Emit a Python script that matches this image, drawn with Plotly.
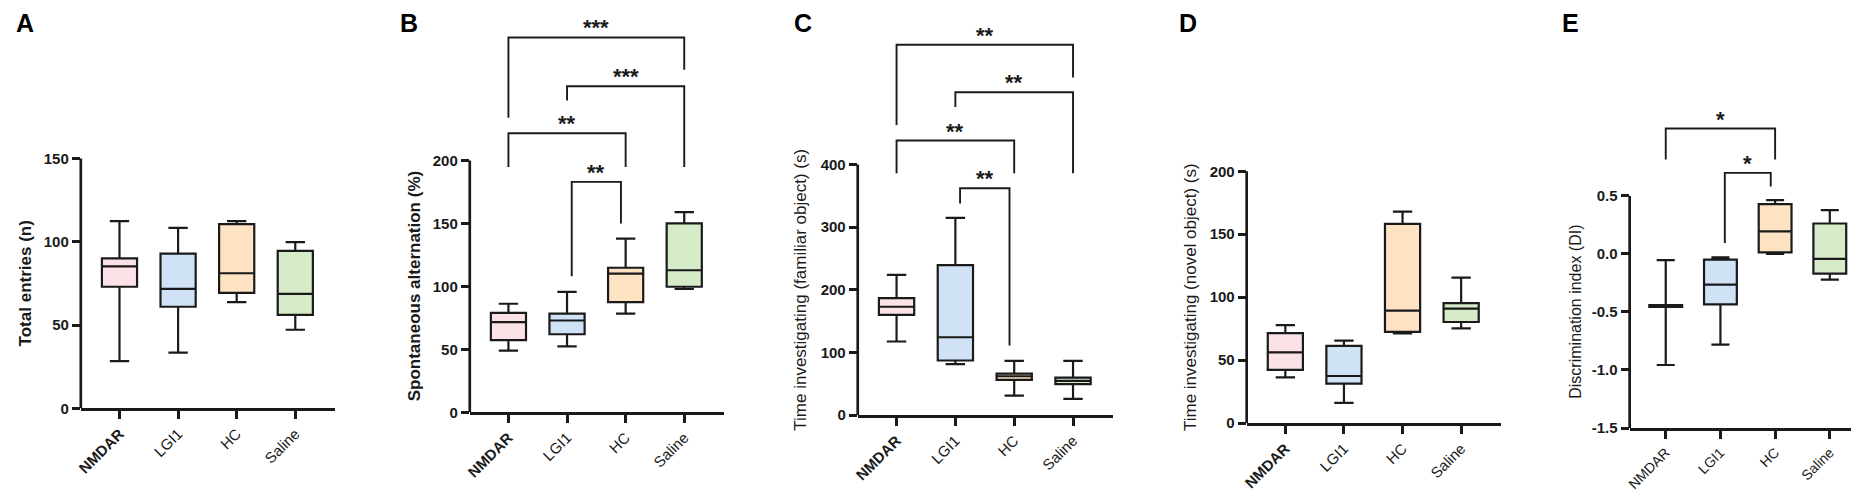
import plotly.graph_objects as go

W, H = 1859, 490

groups = ["NMDAR", "LGI1", "HC", "Saline"]
fills = ["#FBE2E6", "#CFE2F6", "#FEE3C3", "#D6EBC8"]

# ---- Panel A: Total entries (n)
A_min = [28.3, 33.5, 63.8, 47.2]
A_q1 = [73.0, 61.0, 69.3, 56.1]
A_med = [85.2, 71.7, 81.1, 68.7]
A_q3 = [90.0, 92.9, 110.6, 94.5]
A_max = [112.4, 108.3, 112.4, 99.8]
A_ticks = [0, 50, 100, 150]

# ---- Panel B: Spontaneous alternation (%)
B_min = [49.0, 52.3, 78.4, 97.9]
B_q1 = [57.3, 62.0, 87.5, 99.7]
B_med = [71.6, 72.9, 110.2, 112.8]
B_q3 = [78.9, 78.4, 114.8, 150.0]
B_max = [86.2, 95.6, 138.0, 159.0]
B_ticks = [0, 50, 100, 150, 200]
# brackets: (left group, right group, bar y, left leg end, right leg end, label, inset)
B_brackets = [
    (1, 2, 183, 108, 150, "**", 0.08),
    (0, 2, 221.6, 194.8, 194.8, "**", 0.0),
    (1, 3, 259, 247.7, 194.8, "***", 0.0),
    (0, 3, 297.7, 233.9, 272, "***", 0.0),
]

# ---- Panel C: Time investigating (familiar object) (s)
C_min = [117.6, 81.6, 31.4, 26.1]
C_q1 = [160.0, 87.3, 56.5, 49.7]
C_med = [173.0, 124.4, 62.2, 54.9]
C_q3 = [186.7, 239.5, 66.4, 60.1]
C_max = [223.8, 314.8, 86.8, 86.8]
C_ticks = [0, 100, 200, 300, 400]
C_brackets = [
    (1, 2, 362, 337.8, 111.4, "**", 0.08),
    (0, 2, 438, 386, 386, "**", 0.0),
    (1, 3, 515, 491.5, 386, "**", 0.0),
    (0, 3, 590.8, 462.7, 538.6, "**", 0.0),
]

# ---- Panel D: Time investigating (novel object) (s)
D_min = [36.4, 16.1, 71.2, 75.3]
D_q1 = [42.3, 31.4, 72.5, 80.3]
D_med = [56.1, 37.4, 89.4, 90.9]
D_q3 = [71.4, 61.3, 158.2, 95.3]
D_max = [77.9, 65.5, 168.0, 115.6]
D_ticks = [0, 50, 100, 150, 200]

# ---- Panel E: Discrimination index (DI)
E_min = [-0.957, -0.781, 0.0, -0.221]
E_q1 = [-0.456, -0.434, 0.013, -0.170]
E_med = [-0.448, -0.264, 0.194, -0.043]
E_q3 = [-0.440, -0.050, 0.429, 0.262]
E_max = [-0.054, -0.030, 0.463, 0.378]
E_ticks = [-1.5, -1.0, -0.5, 0.0, 0.5]
E_brackets = [
    (1, 2, 0.698, 0.093, 0.58, "*", 0.08),
    (0, 2, 1.08, 0.814, 0.814, "*", 0.0),
]

panels = [
    dict(letter="A", stats=(A_min, A_q1, A_med, A_q3, A_max), ticks=A_ticks, fmt="{:.0f}",
         title="Total entries (n)", tbold=True, tsize=17, xfs=15,
         xpx=(68, 323), y0px=407, ytoppx=153, titlex=12, letterx=1, brackets=[], nmbold=True),
    dict(letter="B", stats=(B_min, B_q1, B_med, B_q3, B_max), ticks=B_ticks, fmt="{:.0f}",
         title="Spontaneous alternation (%)", tbold=True, tsize=17, xfs=15,
         xpx=(458, 713), y0px=411, ytoppx=155, titlex=402, letterx=386, brackets=B_brackets, nmbold=True),
    dict(letter="C", stats=(C_min, C_q1, C_med, C_q3, C_max), ticks=C_ticks, fmt="{:.0f}",
         title="Time investigating (familiar object) (s)", tbold=False, tsize=17, xfs=15,
         xpx=(847, 1103), y0px=414, ytoppx=159, titlex=790, letterx=781, brackets=C_brackets, nmbold=True),
    dict(letter="D", stats=(D_min, D_q1, D_med, D_q3, D_max), ticks=D_ticks, fmt="{:.0f}",
         title="Time investigating (novel object) (s)", tbold=False, tsize=17, xfs=15,
         xpx=(1237, 1492), y0px=422, ytoppx=166, titlex=1180, letterx=1167, brackets=[], nmbold=True),
    dict(letter="E", stats=(E_min, E_q1, E_med, E_q3, E_max), ticks=E_ticks, fmt="{:.1f}",
         title="Discrimination index (DI)", tbold=False, tsize=16, xfs=14,
         xpx=(1621, 1859), y0px=427, ytoppx=191, titlex=1567, letterx=1551, brackets=E_brackets, nmbold=False),
]

INK = "#1a1a1a"
FONT = "Liberation Sans, Arial, sans-serif"

fig = go.Figure()
layout = dict(
    width=W, height=H, margin=dict(l=0, r=0, t=0, b=0),
    paper_bgcolor="white", plot_bgcolor="white",
    showlegend=False, boxmode="overlay",
    font=dict(family=FONT, color=INK),
)
shapes = []
annotations = []

for i, p in enumerate(panels):
    n = i + 1
    xa = "x" if n == 1 else f"x{n}"
    ya = "y" if n == 1 else f"y{n}"
    mn, q1, md, q3, mx = p["stats"]
    for g in range(4):
        fig.add_trace(go.Box(
            x=[groups[g]], q1=[q1[g]], median=[md[g]], q3=[q3[g]],
            lowerfence=[mn[g]], upperfence=[mx[g]],
            fillcolor=fills[g], line=dict(color=INK, width=2.2),
            width=0.6, whiskerwidth=0.55, boxpoints=False,
            hoverinfo="skip", xaxis=xa, yaxis=ya,
        ))
    ticks = p["ticks"]
    t0, t1 = ticks[0], ticks[-1]
    per = (p["y0px"] - p["ytoppx"]) / (t1 - t0)
    ytop = t0 + p["y0px"] / per
    ydom0 = (H - p["y0px"]) / H
    x0f, x1f = p["xpx"][0] / W, min(p["xpx"][1] / W, 1.0)
    ticktext = [("<b>%s</b>" % g if (g == "NMDAR" and p["nmbold"]) else g) for g in groups]
    layout["xaxis" if n == 1 else f"xaxis{n}"] = dict(
        domain=[x0f, x1f], anchor=ya, type="category",
        categoryorder="array", categoryarray=groups,
        range=[-0.66, 3.68], tickvals=groups, ticktext=ticktext, tickangle=-45,
        ticks="outside", ticklen=8, tickwidth=2.5, tickcolor=INK,
        showline=True, linewidth=2.7, linecolor=INK, showgrid=False, zeroline=False,
        tickfont=dict(size=p["xfs"], family=FONT, color=INK), fixedrange=True,
    )
    layout["yaxis" if n == 1 else f"yaxis{n}"] = dict(
        domain=[ydom0, 1], anchor=xa, range=[t0, ytop],
        tickvals=ticks, ticktext=[p["fmt"].format(t) for t in ticks],
        ticks="outside", ticklen=8, tickwidth=2.5, tickcolor=INK,
        showline=False, showgrid=False, zeroline=False,
        tickfont=dict(size=15, family=FONT, color=INK, weight="bold"), fixedrange=True,
    )
    # y axis line only over tick range
    shapes.append(dict(type="line", xref="paper", yref=ya, x0=x0f, x1=x0f, y0=t0, y1=t1,
                       line=dict(color=INK, width=2.7), layer="above"))
    # y title
    annotations.append(dict(
        text=p["title"], xref="paper", yref=ya, x=p["titlex"] / W, y=(t0 + t1) / 2,
        textangle=-90, showarrow=False, xanchor="center", yanchor="middle",
        font=dict(size=p["tsize"], family=FONT, color=INK, weight="bold" if p["tbold"] else "normal"),
    ))
    # panel letter
    annotations.append(dict(
        text=p["letter"], xref="paper", yref="paper", x=p["letterx"] / W, y=1.0,
        showarrow=False, xanchor="left", yanchor="top", yshift=1,
        font=dict(size=25, family=FONT, color="black", weight="bold"),
    ))
    # significance brackets
    for (gl, gr, yb, yl, yr, lab, inset) in p["brackets"]:
        xl, xr = gl + inset, gr - inset
        shapes.append(dict(type="path", xref=xa, yref=ya,
                           path=f"M {xl},{yl} L {xl},{yb} L {xr},{yb} L {xr},{yr}",
                           line=dict(color=INK, width=1.9)))
        annotations.append(dict(
            text=lab, xref=xa, yref=ya, x=(xl + xr) / 2, y=yb, showarrow=False,
            xanchor="center", yanchor="bottom", yshift=-5,
            font=dict(size=22, family=FONT, color=INK, weight="bold"),
        ))

layout["shapes"] = shapes
layout["annotations"] = annotations
fig.update_layout(**layout)
fig.write_html("out.html")
